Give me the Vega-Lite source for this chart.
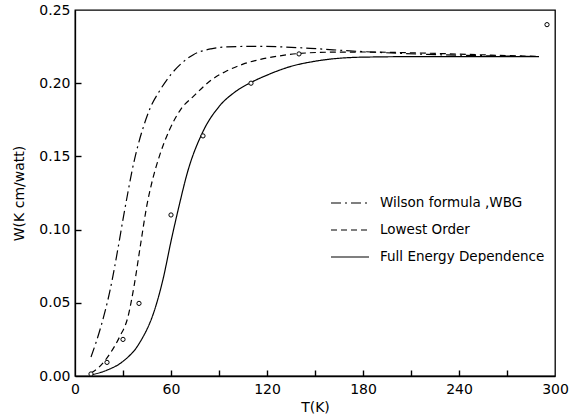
{
  "$schema": "https://vega.github.io/schema/vega-lite/v6.json",
  "width": 480,
  "height": 366,
  "autosize": {"type": "none"},
  "padding": {"left": 75, "top": 10, "right": 16, "bottom": 42},
  "background": "white",
  "config": {
    "view": {"stroke": "black", "strokeWidth": 1.3},
    "font": "DejaVu Sans",
    "axis": {
      "domainColor": "black",
      "domainWidth": 1.3,
      "labelColor": "black",
      "titleColor": "black",
      "grid": false,
      "labelFont": "DejaVu Sans",
      "titleFont": "DejaVu Sans",
      "labelFontSize": 14,
      "titleFontSize": 14,
      "titleFontWeight": "normal"
    },
    "legend": {
      "labelFont": "DejaVu Sans",
      "labelColor": "black"
    }
  },
  "datasets": {
    "curves": [
      {"T": 10, "W": 0.013, "series": "Wilson formula ,WBG"},
      {"T": 16, "W": 0.033, "series": "Wilson formula ,WBG"},
      {"T": 22, "W": 0.059, "series": "Wilson formula ,WBG"},
      {"T": 27, "W": 0.088, "series": "Wilson formula ,WBG"},
      {"T": 30, "W": 0.107, "series": "Wilson formula ,WBG"},
      {"T": 33, "W": 0.125, "series": "Wilson formula ,WBG"},
      {"T": 36, "W": 0.142, "series": "Wilson formula ,WBG"},
      {"T": 39, "W": 0.156, "series": "Wilson formula ,WBG"},
      {"T": 43, "W": 0.171, "series": "Wilson formula ,WBG"},
      {"T": 47, "W": 0.183, "series": "Wilson formula ,WBG"},
      {"T": 53, "W": 0.195, "series": "Wilson formula ,WBG"},
      {"T": 60, "W": 0.206, "series": "Wilson formula ,WBG"},
      {"T": 67, "W": 0.214, "series": "Wilson formula ,WBG"},
      {"T": 74, "W": 0.2195, "series": "Wilson formula ,WBG"},
      {"T": 85, "W": 0.2235, "series": "Wilson formula ,WBG"},
      {"T": 95, "W": 0.2248, "series": "Wilson formula ,WBG"},
      {"T": 115, "W": 0.2252, "series": "Wilson formula ,WBG"},
      {"T": 130, "W": 0.2248, "series": "Wilson formula ,WBG"},
      {"T": 147, "W": 0.2238, "series": "Wilson formula ,WBG"},
      {"T": 178, "W": 0.2217, "series": "Wilson formula ,WBG"},
      {"T": 220, "W": 0.2197, "series": "Wilson formula ,WBG"},
      {"T": 260, "W": 0.2187, "series": "Wilson formula ,WBG"},
      {"T": 290, "W": 0.2182, "series": "Wilson formula ,WBG"},
      {"T": 10, "W": 0.002, "series": "Lowest Order"},
      {"T": 15, "W": 0.006, "series": "Lowest Order"},
      {"T": 22, "W": 0.0155, "series": "Lowest Order"},
      {"T": 28, "W": 0.027, "series": "Lowest Order"},
      {"T": 33, "W": 0.040, "series": "Lowest Order"},
      {"T": 37, "W": 0.062, "series": "Lowest Order"},
      {"T": 41, "W": 0.090, "series": "Lowest Order"},
      {"T": 45, "W": 0.117, "series": "Lowest Order"},
      {"T": 48, "W": 0.132, "series": "Lowest Order"},
      {"T": 53, "W": 0.151, "series": "Lowest Order"},
      {"T": 59, "W": 0.168, "series": "Lowest Order"},
      {"T": 66, "W": 0.182, "series": "Lowest Order"},
      {"T": 74, "W": 0.191, "series": "Lowest Order"},
      {"T": 85, "W": 0.202, "series": "Lowest Order"},
      {"T": 95, "W": 0.2085, "series": "Lowest Order"},
      {"T": 105, "W": 0.213, "series": "Lowest Order"},
      {"T": 116, "W": 0.2163, "series": "Lowest Order"},
      {"T": 130, "W": 0.219, "series": "Lowest Order"},
      {"T": 140, "W": 0.2203, "series": "Lowest Order"},
      {"T": 160, "W": 0.2212, "series": "Lowest Order"},
      {"T": 180, "W": 0.2213, "series": "Lowest Order"},
      {"T": 220, "W": 0.2205, "series": "Lowest Order"},
      {"T": 260, "W": 0.2192, "series": "Lowest Order"},
      {"T": 290, "W": 0.2183, "series": "Lowest Order"},
      {"T": 10, "W": 0.0007, "series": "Full Energy Dependence"},
      {"T": 20, "W": 0.004, "series": "Full Energy Dependence"},
      {"T": 30, "W": 0.010, "series": "Full Energy Dependence"},
      {"T": 40, "W": 0.022, "series": "Full Energy Dependence"},
      {"T": 50, "W": 0.046, "series": "Full Energy Dependence"},
      {"T": 55, "W": 0.066, "series": "Full Energy Dependence"},
      {"T": 60, "W": 0.092, "series": "Full Energy Dependence"},
      {"T": 65, "W": 0.116, "series": "Full Energy Dependence"},
      {"T": 70, "W": 0.138, "series": "Full Energy Dependence"},
      {"T": 80, "W": 0.167, "series": "Full Energy Dependence"},
      {"T": 90, "W": 0.184, "series": "Full Energy Dependence"},
      {"T": 100, "W": 0.194, "series": "Full Energy Dependence"},
      {"T": 110, "W": 0.2005, "series": "Full Energy Dependence"},
      {"T": 120, "W": 0.2055, "series": "Full Energy Dependence"},
      {"T": 135, "W": 0.2115, "series": "Full Energy Dependence"},
      {"T": 150, "W": 0.2150, "series": "Full Energy Dependence"},
      {"T": 180, "W": 0.2178, "series": "Full Energy Dependence"},
      {"T": 220, "W": 0.2182, "series": "Full Energy Dependence"},
      {"T": 290, "W": 0.2182, "series": "Full Energy Dependence"}
    ],
    "points": [
      {"T": 10, "W": 0.0014},
      {"T": 20, "W": 0.0093},
      {"T": 30, "W": 0.025},
      {"T": 40, "W": 0.0496},
      {"T": 60, "W": 0.110},
      {"T": 80, "W": 0.164},
      {"T": 110, "W": 0.200},
      {"T": 140, "W": 0.220},
      {"T": 295, "W": 0.240}
    ]
  },
  "resolve": {"axis": {"x": "independent", "y": "independent"}},
  "layer": [
    {
      "data": {"name": "curves"},
      "mark": {"type": "line", "color": "black", "strokeWidth": 1.2, "interpolate": "monotone"},
      "encoding": {
        "x": {
          "field": "T", "type": "quantitative",
          "scale": {"domain": [0, 300], "nice": false, "zero": false},
          "axis": {
            "orient": "bottom",
            "title": "T(K)",
            "values": [0, 60, 120, 180, 240, 300],
            "ticks": false,
            "labelPadding": 6,
            "titlePadding": 4,
            "labelFlush": false
          }
        },
        "y": {
          "field": "W", "type": "quantitative",
          "scale": {"domain": [0, 0.25], "nice": false},
          "axis": {
            "orient": "left",
            "title": "W(K cm/watt)",
            "values": [0, 0.05, 0.1, 0.15, 0.2, 0.25],
            "format": ".2f",
            "ticks": false,
            "labelPadding": 5,
            "titlePadding": 12,
            "labelFlush": false
          }
        },
        "strokeDash": {
          "field": "series", "type": "nominal",
          "scale": {
            "domain": ["Wilson formula ,WBG", "Lowest Order", "Full Energy Dependence"],
            "range": [[10, 4, 2, 4], [6, 4], [1, 0]]
          },
          "legend": {
            "title": null,
            "orient": "none",
            "legendX": 255,
            "legendY": 173,
            "padding": 0,
            "symbolType": "stroke",
            "symbolSize": 1444,
            "symbolStrokeColor": "black",
            "symbolStrokeWidth": 1.2,
            "labelFontSize": 13.5,
            "labelOffset": 10,
            "labelLimit": 400,
            "rowPadding": 0
          }
        }
      }
    },
    {
      "data": {"name": "points"},
      "mark": {"type": "point", "shape": "circle", "filled": false, "color": "black", "fill": "white", "fillOpacity": 1, "strokeWidth": 1, "size": 18},
      "encoding": {
        "x": {
          "field": "T", "type": "quantitative",
          "axis": {
            "orient": "top",
            "offset": -366,
            "title": null,
            "labels": false,
            "domain": false,
            "tickSize": 6,
            "tickWidth": 1.4,
            "tickColor": "black",
            "values": [30, 60, 90, 120, 150, 180, 210, 240, 270]
          }
        },
        "y": {
          "field": "W", "type": "quantitative",
          "axis": {
            "orient": "right",
            "offset": -480,
            "title": null,
            "labels": false,
            "domain": false,
            "tickSize": 6,
            "tickWidth": 1.4,
            "tickColor": "black",
            "values": [0.05, 0.1, 0.15, 0.2]
          }
        }
      }
    }
  ]
}
